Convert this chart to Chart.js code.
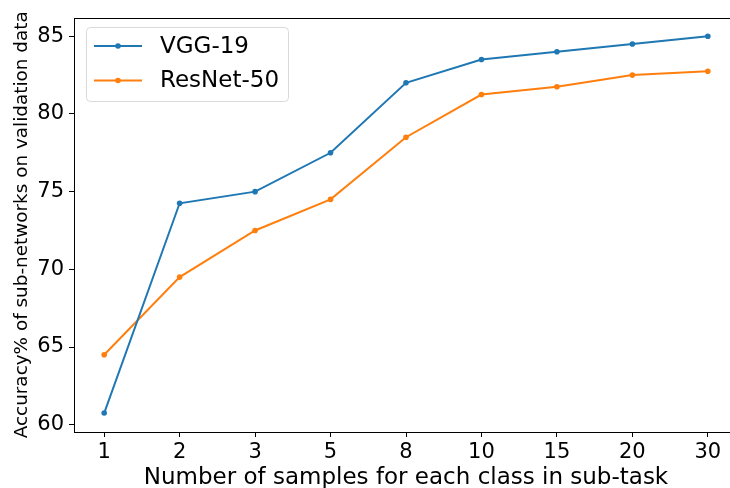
<!DOCTYPE html>
<html lang="en">
<head>
    <meta charset="UTF-8">
    <title>Accuracy vs samples</title>
    <script src="https://cdn.jsdelivr.net/npm/chart.js"></script>
    <style>
        html, body { margin: 0; padding: 0; background: #fff; overflow: hidden; }
        #wrap { width: 730px; height: 488px; overflow: hidden; }
    </style>
</head>
<body>
    <div id="wrap"><canvas id="chart" width="745" height="488"></canvas></div>

    <script>
        const samples = ['1', '2', '3', '5', '8', '10', '15', '20', '30'];
        const vgg19 = [60.75, 74.25, 75, 77.5, 82, 83.5, 84, 84.5, 85];
        const resnet50 = [64.5, 69.5, 72.5, 74.5, 78.5, 81.25, 81.75, 82.5, 82.75];
        const yTicks = [60, 65, 70, 75, 80, 85];

        const FONT = "'DejaVu Sans', sans-serif";

        // matplotlib-like frame + legend inside the axes
        const framePlugin = {
            id: 'frame',
            afterDatasetsDraw(chart) {
                const { ctx, chartArea: a } = chart;
                ctx.save();
                ctx.strokeStyle = '#000';
                ctx.lineWidth = 1;
                ctx.strokeRect(Math.round(a.left) + 0.5, Math.round(a.top) + 0.5,
                    Math.round(a.right - a.left), Math.round(a.bottom - a.top));

                // legend
                const x0 = 86, y0 = 27, w = 202, h = 74, r = 4;
                ctx.beginPath();
                ctx.roundRect(x0 + 0.5, y0 + 0.5, w, h, r);
                ctx.fillStyle = 'rgba(255,255,255,0.8)';
                ctx.fill();
                ctx.strokeStyle = '#d9d9d9';
                ctx.stroke();
                chart.data.datasets.forEach((ds, i) => {
                    const yy = 46 + i * 34.5;
                    ctx.strokeStyle = ds.borderColor;
                    ctx.lineWidth = 2;
                    ctx.beginPath();
                    ctx.moveTo(94, yy);
                    ctx.lineTo(142, yy);
                    ctx.stroke();
                    ctx.fillStyle = ds.borderColor;
                    ctx.beginPath();
                    ctx.arc(118, yy, 2.8, 0, Math.PI * 2);
                    ctx.fill();
                    ctx.fillStyle = '#000';
                    ctx.font = '23px ' + FONT;
                    ctx.textBaseline = 'middle';
                    ctx.fillText(ds.label, 160, yy + 1);
                });
                ctx.restore();
            }
        };

        function toPoints(arr) {
            return arr.map((v, i) => ({ x: i, y: v }));
        }

        const ctx = document.getElementById('chart').getContext('2d');
        new Chart(ctx, {
            type: 'line',
            data: {
                datasets: [{
                    label: 'VGG-19',
                    data: toPoints(vgg19),
                    borderColor: '#1f77b4',
                    backgroundColor: '#1f77b4',
                    borderWidth: 2,
                    pointRadius: 2.8,
                    pointBorderWidth: 0,
                    tension: 0
                }, {
                    label: 'ResNet-50',
                    data: toPoints(resnet50),
                    borderColor: '#ff7f0e',
                    backgroundColor: '#ff7f0e',
                    borderWidth: 2,
                    pointRadius: 2.8,
                    pointBorderWidth: 0,
                    tension: 0
                }]
            },
            options: {
                responsive: false,
                animation: false,
                layout: { padding: { top: 14, right: 7, left: 0, bottom: 0 } },
                plugins: {
                    legend: { display: false },
                    tooltip: { enabled: false }
                },
                scales: {
                    x: {
                        type: 'linear',
                        min: -0.4,
                        max: 8.4,
                        afterFit: s => { s.height = 56; },
                        afterBuildTicks: s => { s.ticks = samples.map((_, i) => ({ value: i })); },
                        grid: {
                            drawOnChartArea: false,
                            drawTicks: true,
                            tickLength: 5,
                            color: '#000'
                        },
                        border: { display: false },
                        ticks: {
                            color: '#000',
                            font: { family: FONT, size: 21 },
                            padding: 3,
                            maxRotation: 0,
                            autoSkip: false,
                            callback: v => samples[v]
                        },
                        title: {
                            display: true,
                            text: 'Number of samples for each class in sub-task',
                            color: '#000',
                            font: { family: FONT, size: 23, lineHeight: 0.85 },
                            padding: { top: 0, bottom: 0 }
                        }
                    },
                    y: {
                        min: 59.53,
                        max: 86.2,
                        afterFit: s => { s.width = 74; },
                        afterBuildTicks: s => { s.ticks = yTicks.map(v => ({ value: v })); },
                        grid: {
                            drawOnChartArea: false,
                            drawTicks: true,
                            tickLength: 5,
                            color: '#000'
                        },
                        border: { display: false },
                        ticks: {
                            color: '#000',
                            font: { family: FONT, size: 21 },
                            padding: 5
                        },
                        title: {
                            display: true,
                            text: 'Accuracy% of sub-networks on validation data',
                            color: '#000',
                            font: { family: FONT, size: 18.4 },
                            padding: { top: 11, bottom: 0 }
                        }
                    }
                }
            },
            plugins: [framePlugin]
        });
    </script>
</body>
</html>
